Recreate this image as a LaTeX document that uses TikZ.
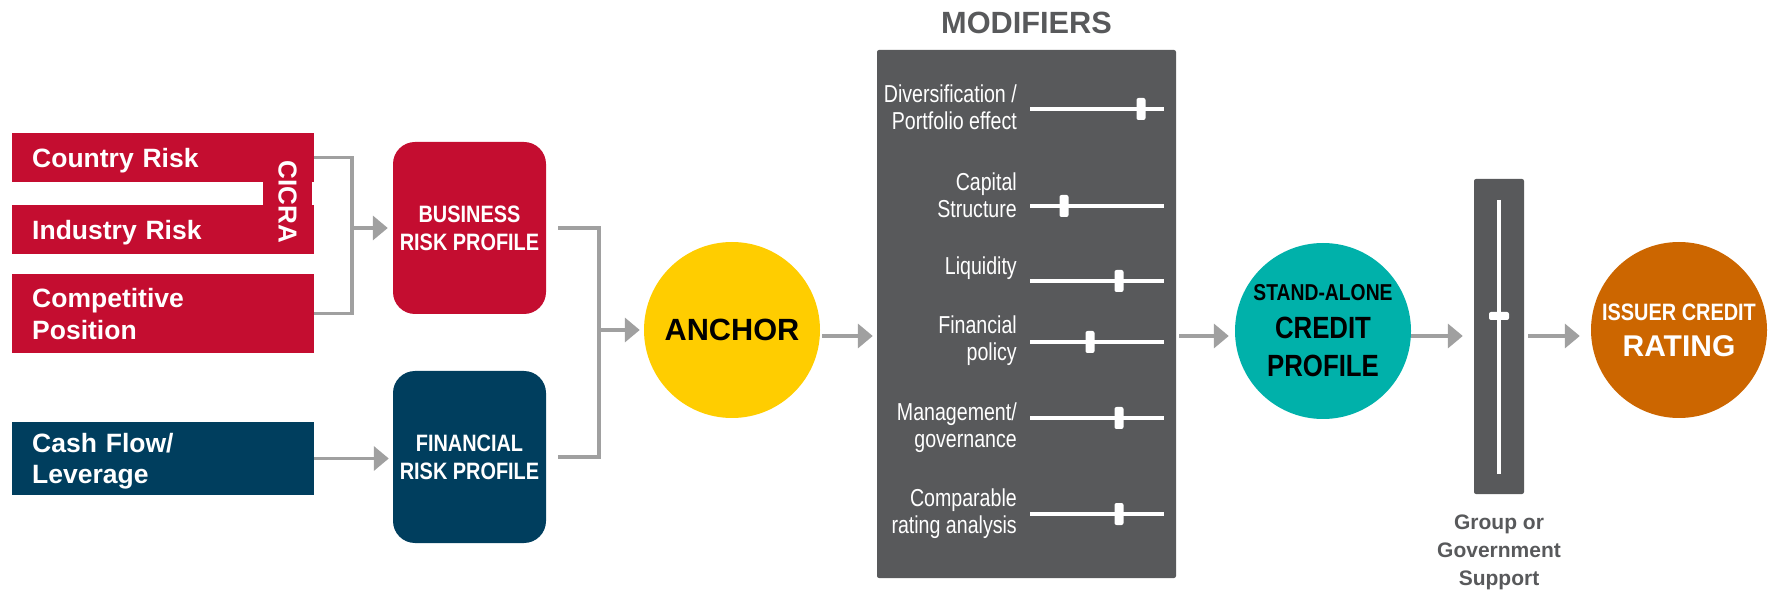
\documentclass[tikz,border=0pt]{standalone}
\usepackage{fontspec}
\setmainfont{Liberation Sans}
\newfontfamily\condreg[FakeStretch=0.8]{Liberation Sans}
\newfontfamily\condbold[FakeStretch=0.84]{Liberation Sans}
\usetikzlibrary{arrows.meta}
\definecolor{riskred}{RGB}{196,13,48}
\definecolor{finblue}{RGB}{0,62,94}
\definecolor{anchoryellow}{RGB}{255,205,0}
\definecolor{sacpteal}{RGB}{0,177,170}
\definecolor{icrorange}{RGB}{204,102,0}
\definecolor{modgrey}{RGB}{88,89,91}
\definecolor{arrowgrey}{RGB}{160,160,160}
\begin{document}
\begin{tikzpicture}[x=1pt,y=-1pt,
    leftbox/.style={anchor=west, text=white, text width=262pt, inner xsep=20pt, inner ysep=0pt, align=left,
      text depth=0pt, font=\bfseries\fontsize{26.5}{32}\selectfont},
    profbox/.style={rounded corners=22pt, minimum width=153pt, minimum height=172pt, text=white, align=center,
      font=\condbold\bfseries\fontsize{23.7}{28}\selectfont},
    disc/.style={circle, minimum size=176pt, inner sep=0pt, align=center},
    modlabel/.style={anchor=north east, inner sep=0pt, text=white, align=right,
      font=\condreg\fontsize{24.5}{27}\selectfont},
    knob/.style={fill=white, rounded corners=2pt, minimum width=9pt, minimum height=22pt, inner sep=0pt},
    conn/.style={draw=arrowgrey, line width=3.5pt},
    arr/.style={conn, -{Triangle[width=24pt,length=15pt]}}]
  \useasboundingbox (0,0) rectangle (1770,593);

  % business and financial inputs
  \node[leftbox, fill=riskred, minimum height=49pt] (country) at (12,157.5) {Country Risk};
  \node[leftbox, fill=riskred, minimum height=49pt] (industry) at (12,229.5) {Industry Risk};
  \node[leftbox, fill=riskred, minimum height=79pt, text depth=32pt] (comp) at (12,313.5) {Competitive\\Position};
  \node[fill=riskred, minimum width=49pt, minimum height=121pt, inner sep=0pt] (cicra) at (287.5,193.5) {};
  \node[text=white, rotate=-90, inner sep=0pt, font=\bfseries\fontsize{26}{30}\selectfont] (cicralab)
    at (287.5,202) {CICRA};
  \node[leftbox, fill=finblue, minimum height=73pt, text depth=31pt,
    font=\bfseries\fontsize{26.5}{31}\selectfont] (cash) at (12,458.5) {Cash Flow/\\Leverage};

  \node[profbox, fill=riskred] (business) at (469.5,228) {BUSINESS\\RISK PROFILE};
  \node[profbox, fill=finblue] (financial) at (469.5,457) {FINANCIAL\\RISK PROFILE};

  \coordinate (bjoin) at (352,228);
  \draw[conn] (country.east) -| (bjoin) |- (comp.east);
  \draw[arr, shorten >=5pt] (bjoin) -- (business.west);
  \draw[arr, shorten >=4pt] (cash.east) -- (cash.east -| financial.west);

  \node[disc, fill=anchoryellow, font=\bfseries\fontsize{30.7}{36}\selectfont] (anchor) at (732,330) {ANCHOR};
  \coordinate (ajoin) at (599,330);
  \draw[conn, shorten <=12pt, shorten >=12pt] (business.east) -| (ajoin) |- (financial.east);
  \draw[arr, shorten >=4pt] (ajoin) -- (anchor);

  % modifiers panel
  \node[text=modgrey, font=\bfseries\fontsize{30.7}{36}\selectfont] (modtitle) at (1026.5,23) {MODIFIERS};
  \node[fill=modgrey, rounded corners=2pt, minimum width=299pt, minimum height=528pt] (mods) at (1026.5,314) {};
  \foreach \sy/\ty/\tx/\lab [count=\i] in {109/85/1141/{Diversification /\\Portfolio effect},
      206/173/1064/{Capital\\Structure}, 281/257/1119/{Liquidity}, 342/316/1090/{Financial\\policy},
      418/403/1119/{Management/\\governance}, 514/489/1119/{Comparable\\rating analysis}} {
    \node[modlabel] (mlab\i) at (1017,\ty) {\lab};
    \draw[white, line width=4pt] (1030,\sy) -- (1164,\sy);
    \node[knob] (mknob\i) at (\tx,\sy) {};
  }

  \node[disc, fill=sacpteal, font=\condbold\bfseries\fontsize{30.7}{38}\selectfont] (salone) at (1323,331)
    {{\fontsize{23}{27}\selectfont STAND-ALONE}\\CREDIT\\PROFILE};

  % group or government support
  \node[fill=modgrey, rounded corners=2pt, minimum width=50pt, minimum height=315pt] (support) at (1499,336.5) {};
  \draw[white, line width=4pt] (1499,200) -- (1499,474);
  \node[fill=white, rounded corners=2pt, minimum width=20pt, minimum height=8pt, inner sep=0pt] (sknob) at (1499,316) {};
  \node[anchor=north, inner sep=0pt, align=center, text=modgrey, font=\bfseries\fontsize{21}{28}\selectfont] (suplab)
    at (1499,514.5) {Group or\\Government\\Support};

  \node[disc, fill=icrorange, text=white, font=\bfseries\fontsize{30}{36}\selectfont] (issuer) at (1679,330)
    {{\condbold\bfseries\fontsize{23.7}{28}\selectfont ISSUER CREDIT}\\RATING};

  \coordinate (row) at (0,336);
  \draw[arr, shorten <=2pt, shorten >=4pt] (anchor.east |- row) -- (mods.west |- row);
  \draw[arr, shorten <=3pt, shorten >=6pt] (mods.east |- row) -- (salone.west |- row);
  \draw[arr, shorten >=11pt] (salone.east |- row) -- (support.west |- row);
  \draw[arr, shorten <=4pt, shorten >=11pt] (support.east |- row) -- (issuer.west |- row);
\end{tikzpicture}
\end{document}
